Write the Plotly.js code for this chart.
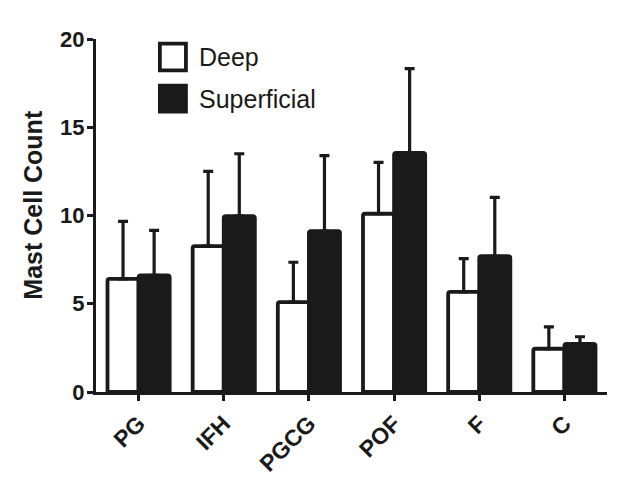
<!DOCTYPE html>
<html><head><meta charset="utf-8">
<script src="https://cdn.plot.ly/plotly-3.0.1.min.js"></script>
<style>html,body{margin:0;padding:0;background:#fff}#chart{width:635px;height:485px}</style>
</head><body><div id="chart"></div>
<script>
const categories = ['PG','IFH','PGCG','POF','F','C'];
const seriesNames = ['Deep','Superficial'];
const deepMean = [6.41, 8.26, 5.09, 10.1, 5.67, 2.45];
const deepSD   = [3.26, 4.24, 2.26, 2.91, 1.89, 1.24];
const supMean  = [6.61, 9.96, 9.11, 13.54, 7.69, 2.73];
const supSD    = [2.55, 3.54, 4.28, 4.78, 3.34, 0.40];
const yTicks = [0,5,10,15,20];
const yTitle = 'Mast Cell Count';

const ink = '#1a1a1a';
const zeros = categories.map(()=>0);
function errCfg(sd){return {type:'data',symmetric:false,array:sd,arrayminus:zeros,color:ink,thickness:3.2,width:5};}

const traces = [
 {type:'bar',name:seriesNames[0],x:categories,y:deepMean,error_y:errCfg(deepSD),
  marker:{color:'#ffffff',line:{color:ink,width:3.8},cornerradius:2},showlegend:false},
 {type:'bar',name:seriesNames[1],x:categories,y:supMean,error_y:errCfg(supSD),
  marker:{color:ink,line:{color:ink,width:3.8},cornerradius:2},showlegend:false}
];

const font = 'Liberation Sans, Arial, sans-serif';
const legY = [[0.987,0.911],[0.868,0.794]];
const shapes = seriesNames.map((n,i)=>({type:'rect',xref:'paper',yref:'paper',x0:0.125,x1:0.176,y0:legY[i][1],y1:legY[i][0],
  fillcolor:i===0?'#ffffff':ink,line:{color:ink,width:3.8}}));
const annotations = seriesNames.map((n,i)=>({xref:'paper',yref:'paper',x:0.198,y:(legY[i][0]+legY[i][1])/2,xanchor:'left',yanchor:'middle',
  text:n,showarrow:false,font:{family:font,size:25,color:ink}}));
annotations.push({xref:'paper',yref:'paper',x:-0.125,y:0.531,xanchor:'center',yanchor:'middle',textangle:-90,
  text:yTitle,showarrow:false,font:{family:font,size:25,weight:'bold',color:ink}});

const layout = {
 width:635,height:485,margin:{l:96,r:28,t:39,b:92.5},
 paper_bgcolor:'#fff',plot_bgcolor:'#fff',
 barmode:'group',bargap:0.27,bargroupgap:0,
 font:{family:font,color:ink},
 xaxis:{type:'category',range:[-0.5,5.5],showline:true,linewidth:3,linecolor:ink,ticks:'outside',ticklen:6,tickwidth:3,tickcolor:ink,
   tickangle:-45,tickfont:{family:font,size:23,weight:'bold',color:ink},showgrid:false,zeroline:false},
 yaxis:{range:[0,20],tickvals:yTicks,showline:true,linewidth:3,linecolor:ink,ticks:'outside',ticklen:6,tickwidth:3,tickcolor:ink,
   ticklabelstandoff:-2,
   tickfont:{family:font,size:22,weight:'bold',color:ink},showgrid:false,zeroline:false},
 shapes:shapes,annotations:annotations
};
Plotly.newPlot('chart',traces,layout,{displayModeBar:false,staticPlot:true});
</script></body></html>
